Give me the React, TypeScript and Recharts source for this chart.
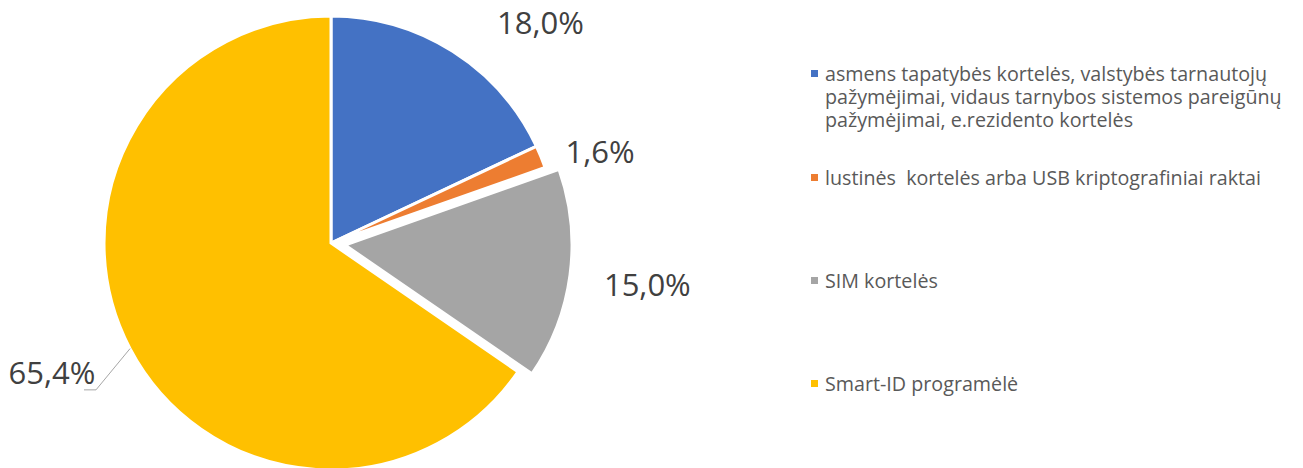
import React from 'react';
import { PieChart, Pie, Cell, Legend } from 'recharts';

const categories = [
  'asmens tapatybės kortelės, valstybės tarnautojų pažymėjimai, vidaus tarnybos sistemos pareigūnų pažymėjimai, e.rezidento kortelės',
  'lustinės  kortelės arba USB kriptografiniai raktai',
  'SIM kortelės',
  'Smart-ID programėlė',
];
const shares = [18.0, 1.6, 15.0, 65.4];
const colors = ['#4472C4', '#ED7D31', '#A5A5A5', '#FFC000'];
// slices pulled out of the main pie
const exploded = [false, false, true, false];

// small nudges so labels sit where the original places them
const labelNudge = [
  [46, 37],
  [-13, 24],
  [0, -1],
  [-9, -13],
];

const data = categories.map((name, i) => ({ name, value: shares[i] }));
const fmt = (v: number) => v.toFixed(1).replace('.', ',') + '%';
const RAD = Math.PI / 180;

function makeLabel(showExploded: boolean) {
  return (props: any) => {
    const { cx, cy, midAngle, outerRadius, index } = props;
    if (exploded[index] !== showExploded) return null;
    const r = outerRadius + 78;
    const x = cx + r * Math.cos(-midAngle * RAD) + labelNudge[index][0];
    const y = cy + r * Math.sin(-midAngle * RAD) + labelNudge[index][1];
    let line = null;
    if (index === 3) {
      const ex = cx + outerRadius * Math.cos(-midAngle * RAD);
      const ey = cy + outerRadius * Math.sin(-midAngle * RAD);
      line = (
        <polyline
          points={`${ex},${ey} ${x + 44},${y + 18} ${x + 32},${y + 18}`}
          fill="none"
          stroke="#A6A6A6"
          strokeWidth={1}
        />
      );
    }
    return (
      <g key={`lbl-${index}`}>
        {line}
        <text x={x} y={y} textAnchor="middle" dominantBaseline="central" fontSize={31} fill="#404040" fontFamily="'Open Sans', sans-serif">
          {fmt(shares[index])}
        </text>
      </g>
    );
  };
}

function LegendContent() {
  const tops = [0, 104, 207, 310];
  return (
    <div style={{ position: 'relative', width: 492, height: 340, fontFamily: "'Open Sans', sans-serif", fontSize: 19.7, color: '#595959', lineHeight: '23px' }}>
      {categories.map((c, i) => (
        <div key={c} style={{ position: 'absolute', top: tops[i], left: 0, display: 'flex', alignItems: 'flex-start' }}>
          <span style={{ display: 'inline-block', width: 7, height: 7, background: colors[i], marginTop: 8, marginRight: 7, flex: 'none' }} />
          <span style={{ width: 490, whiteSpace: 'pre-wrap' }}>{c}</span>
        </div>
      ))}
    </div>
  );
}

export default function App() {
  return (
    <div style={{ position: 'absolute', left: 0, top: 0, width: 1303, height: 468, background: '#fff', overflow: 'hidden' }}>
      <PieChart width={1303} height={468} margin={{ top: 0, right: 0, bottom: 0, left: 0 }}>
        <Pie
          data={data}
          dataKey="value"
          cx={331}
          cy={243}
          outerRadius={227}
          startAngle={90}
          endAngle={-270}
          stroke="#fff"
          strokeWidth={3}
          label={makeLabel(false)}
          labelLine={false}
          isAnimationActive={false}
        >
          {data.map((d, i) => (
            <Cell key={d.name} fill={exploded[i] ? 'none' : colors[i]} stroke={exploded[i] ? 'none' : '#fff'} />
          ))}
        </Pie>
        <Pie
          data={data}
          dataKey="value"
          cx={345}
          cy={245}
          outerRadius={227}
          startAngle={90}
          endAngle={-270}
          stroke="#fff"
          strokeWidth={3}
          label={makeLabel(true)}
          labelLine={false}
          isAnimationActive={false}
        >
          {data.map((d, i) => (
            <Cell key={d.name} fill={exploded[i] ? colors[i] : 'none'} stroke={exploded[i] ? '#fff' : 'none'} />
          ))}
        </Pie>
        <Legend
          layout="vertical"
          content={() => <LegendContent />}
          wrapperStyle={{ position: 'absolute', left: 811, top: 62, width: 492 }}
        />
      </PieChart>
    </div>
  );
}
